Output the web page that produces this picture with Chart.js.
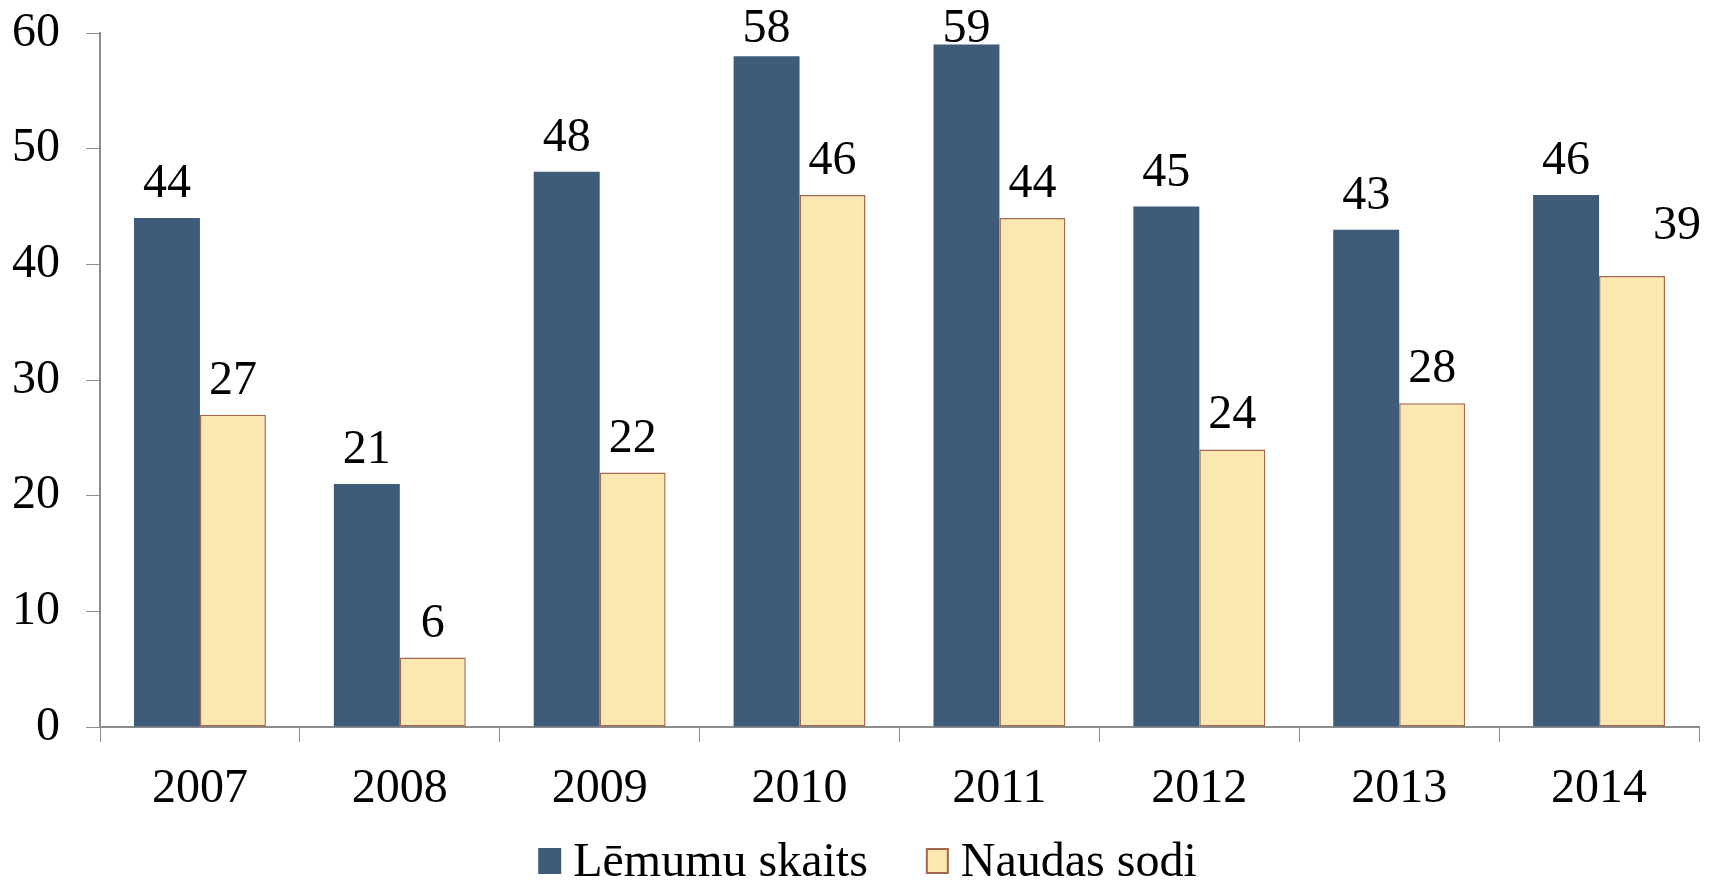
<!DOCTYPE html>
<html>
<head>
<meta charset="utf-8">
<script src="https://cdn.jsdelivr.net/npm/chart.js@4/dist/chart.umd.min.js"></script>
<style>
  html, body { margin: 0; padding: 0; background: #fff; }
  #wrap { width: 1715px; height: 885px; }
</style>
</head>
<body>
<div id="wrap"><canvas id="chart" width="1715" height="885"></canvas></div>
<script>
const years = ['2007', '2008', '2009', '2010', '2011', '2012', '2013', '2014'];
const decisions = [44, 21, 48, 58, 59, 45, 43, 46];
const fines = [27, 6, 22, 46, 44, 24, 28, 39];
const yTicks = [0, 10, 20, 30, 40, 50, 60];

const FONT = "'Liberation Serif', 'Times New Roman', serif";

// labels above every bar, placed from the bar elements themselves
const barLabels = {
    id: 'barLabels',
    afterDatasetsDraw(chart) {
        const ctx = chart.ctx;
        ctx.save();
        ctx.font = '48px ' + FONT;
        ctx.fillStyle = '#000';
        ctx.textAlign = 'center';
        ctx.textBaseline = 'alphabetic';
        chart.data.datasets.forEach((ds, i) => {
            const meta = chart.getDatasetMeta(i);
            meta.data.forEach((bar, j) => {
                let dx = 0, dy = 0;
                // the 2014 fines label sits a bit off to the right in the original
                if (i === 1 && j === 7) { dx = 45; dy = -16; }
                const y = Math.max(bar.y - 21 + dy, 42); // keep inside the top edge
                ctx.fillText(String(ds.data[j]), bar.x + dx, y);
            });
        });
        ctx.restore();
    }
};

// Excel style legend under the axis (wider gaps than the built-in one allows)
const bottomLegend = {
    id: 'bottomLegend',
    afterDraw(chart) {
        const ctx = chart.ctx;
        const boxW = 23, boxH = 26, textGap = 12, itemGap = 58;
        const baseline = 876;
        ctx.save();
        ctx.font = '48px ' + FONT;
        const items = chart.data.datasets.map(ds => ({
            ds: ds,
            w: ctx.measureText(ds.label).width
        }));
        let total = 0;
        items.forEach((it, i) => {
            total += boxW + textGap + it.w + (i < items.length - 1 ? itemGap : 0);
        });
        let x = (chart.width - total) / 2 + 10;
        items.forEach(it => {
            ctx.fillStyle = it.ds.backgroundColor;
            ctx.fillRect(x, baseline - boxH - 2, boxW, boxH);
            if (it.ds.borderWidth) {
                ctx.strokeStyle = it.ds.borderColor;
                ctx.lineWidth = 2;
                ctx.strokeRect(x + 1, baseline - boxH - 1, boxW - 2, boxH - 2);
            }
            ctx.fillStyle = '#000';
            ctx.textBaseline = 'alphabetic';
            ctx.textAlign = 'left';
            ctx.fillText(it.ds.label, x + boxW + textGap, baseline);
            x += boxW + textGap + it.w + itemGap;
        });
        ctx.restore();
    }
};

const ctx = document.getElementById('chart');
new Chart(ctx, {
    type: 'bar',
    data: {
        labels: years,
        datasets: [{
            label: 'Lēmumu skaits',
            data: decisions,
            backgroundColor: '#3E5C79',
            borderWidth: 0,
            barPercentage: 1,
            categoryPercentage: 0.66
        }, {
            label: 'Naudas sodi',
            data: fines,
            backgroundColor: '#FBE7B0',
            borderColor: '#A3684E',
            borderWidth: 1.5,
            borderSkipped: false,
            barPercentage: 1,
            categoryPercentage: 0.66
        }]
    },
    options: {
        responsive: false,
        animation: false,
        layout: { padding: { left: 0, right: 16, top: 0, bottom: 58 } },
        plugins: {
            tooltip: { enabled: false },
            legend: { display: false }
        },
        scales: {
            x: {
                afterFit(axis) { axis.height = 100; },
                grid: {
                    drawOnChartArea: false,
                    drawTicks: true,
                    tickLength: 15,
                    color: '#8C8C8C',
                    offset: true
                },
                border: { color: '#8C8C8C', width: 2 },
                ticks: {
                    font: { family: FONT, size: 48 },
                    color: '#000',
                    padding: 19
                }
            },
            y: {
                min: 0,
                max: 60,
                afterBuildTicks(axis) {
                    axis.ticks = yTicks.map(v => ({ value: v }));
                },
                afterFit(axis) {
                    axis.width = 100;
                    axis.paddingTop = 33;
                    axis.paddingBottom = 0;
                },
                grid: {
                    drawOnChartArea: false,
                    drawTicks: true,
                    tickLength: 14,
                    color: '#8C8C8C'
                },
                border: { color: '#8C8C8C', width: 2 },
                ticks: {
                    font: { family: FONT, size: 48 },
                    color: '#000',
                    padding: 26
                }
            }
        }
    },
    plugins: [barLabels, bottomLegend]
});
</script>
</body>
</html>
